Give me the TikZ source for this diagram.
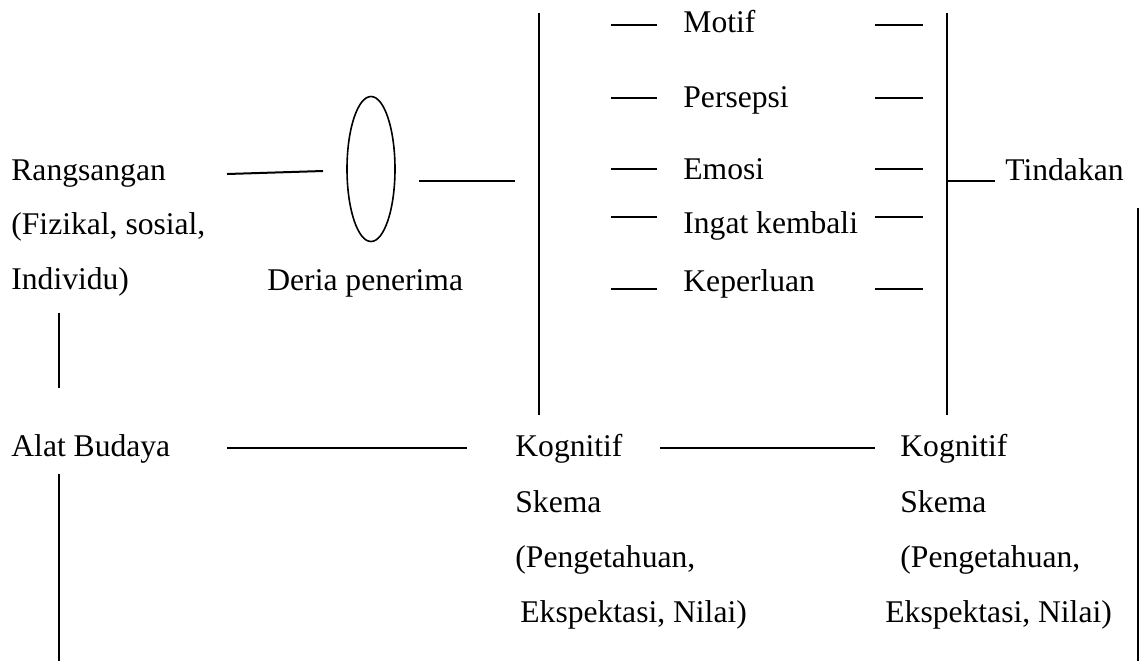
\documentclass[tikz,border=0pt]{standalone}
\usepackage{fontspec}
\setmainfont{Liberation Serif}
\usetikzlibrary{shapes.geometric}
\begin{document}
\begin{tikzpicture}[x=0.5pt,y=-0.5pt,
  txt/.style={anchor=base west, inner sep=0pt, font=\fontsize{15.8}{19}\selectfont},
  ln/.style={line width=1pt}]
\useasboundingbox (0,0) rectangle (1140,661);
% texts
\node[txt] (rang) at (11,180) {Rangsangan};
\node[txt] (fiz) at (11,234) {(Fizikal, sosial,};
\node[txt] (ind) at (11,289) {Individu)};
\node[txt] (deria) at (267,290) {Deria penerima};
\node[txt] (motif) at (683,32) {Motif};
\node[txt] (pers) at (683,107) {Persepsi};
\node[txt] (emosi) at (683,179) {Emosi};
\node[txt] (ingat) at (683,233) {Ingat kembali};
\node[txt] (keper) at (683,291) {Keperluan};
\node[txt] (tind) at (1005,180) {Tindakan};
\node[txt] (alat) at (11,456) {Alat Budaya};
\node[txt] (kogA) at (515,456) {Kognitif};
\node[txt] (skA) at (515,512) {Skema};
\node[txt] (pengA) at (515,567) {(Pengetahuan,};
\node[txt] (eksA) at (520,622) {Ekspektasi, Nilai)};
\node[txt] (kogB) at (900,456) {Kognitif};
\node[txt] (skB) at (900,512) {Skema};
\node[txt] (pengB) at (900,567) {(Pengetahuan,};
\node[txt] (eksB) at (885,622) {Ekspektasi, Nilai)};
% ellipse
\node[draw, ellipse, line width=0.8pt, inner sep=0pt, minimum width=24pt, minimum height=72.5pt] (ell) at (371,169) {};
% coordinates
\coordinate (r1) at (227,174); \coordinate (r2) at (323,171);
\coordinate (e1) at (419,181); \coordinate (e2) at (515,181);
\coordinate (b1t) at (539,13); \coordinate (b1b) at (539,415);
\coordinate (b2t) at (947,13); \coordinate (b2b) at (947,415);
\coordinate (t1) at (947,181); \coordinate (t2) at (995,181);
\coordinate (rbt) at (1138,208); \coordinate (rbb) at (1138,661);
\coordinate (v1t) at (59,313); \coordinate (v1b) at (59,388);
\coordinate (v2t) at (59,474); \coordinate (v2b) at (59,661);
\coordinate (h1a) at (227,448); \coordinate (h1b) at (467,448);
\coordinate (h2a) at (660,448); \coordinate (h2b) at (875,448);
\draw[ln] (r1) -- (r2);
\draw[ln] (e1) -- (e2);
\draw[ln] (b1t) -- (b1b);
\draw[ln] (b2t) -- (b2b);
\draw[ln] (t1) -- (t2);
\draw[ln] (rbt) -- (rbb);
\draw[ln] (v1t) -- (v1b);
\draw[ln] (v2t) -- (v2b);
\draw[ln] (h1a) -- (h1b);
\draw[ln] (h2a) -- (h2b);
\foreach \yy/\nm in {25/a,98/b,169/c,217/d,289/e}{
  \coordinate (L\nm1) at (611,\yy); \coordinate (L\nm2) at (657,\yy);
  \coordinate (R\nm1) at (875,\yy); \coordinate (R\nm2) at (923,\yy);
  \draw[ln] (L\nm1) -- (L\nm2);
  \draw[ln] (R\nm1) -- (R\nm2);
}
\end{tikzpicture}
\end{document}
